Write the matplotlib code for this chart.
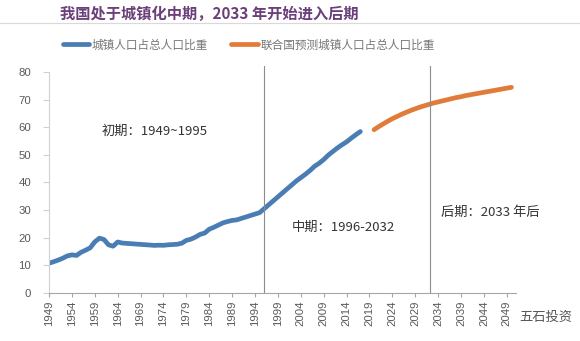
import matplotlib
matplotlib.use("Agg")
import matplotlib.pyplot as plt
from matplotlib.lines import Line2D

plt.rcParams['font.family'] = ['Noto Sans CJK SC', 'DejaVu Sans']

# 城镇人口占总人口比重 (%), 1949-2017
hist_years = list(range(1949, 2018))
hist_vals = [10.64, 11.18, 11.78, 12.46, 13.31, 13.69, 13.48, 14.62, 15.39, 16.25,
             18.41, 19.75, 19.29, 17.33, 16.84, 18.37, 17.98, 17.86, 17.74, 17.62,
             17.50, 17.38, 17.26, 17.13, 17.20, 17.16, 17.34, 17.44, 17.55, 17.92,
             18.96, 19.39, 20.16, 21.13, 21.62, 23.01, 23.71, 24.52, 25.32, 25.81,
             26.21, 26.41, 26.94, 27.46, 27.99, 28.51, 29.04, 30.48, 31.91, 33.35,
             34.78, 36.22, 37.66, 39.09, 40.53, 41.76, 42.99, 44.34, 45.89, 46.99,
             48.34, 49.95, 51.27, 52.57, 53.73, 54.77, 56.10, 57.35, 58.52]

# 联合国预测 (%), 2020-2050
proj_years = list(range(2020, 2051))
proj_vals = [59.2, 60.3, 61.3, 62.3, 63.2, 64.0, 64.8, 65.5, 66.2, 66.8,
             67.4, 67.9, 68.4, 68.9, 69.3, 69.7, 70.1, 70.5, 70.9, 71.2,
             71.6, 71.9, 72.2, 72.5, 72.8, 73.1, 73.4, 73.7, 74.0, 74.3, 74.6]

tick_years = list(range(1949, 2050, 5))
phase_bounds = [1995.9, 2032.3]

blue = "#4a7db3"
orange = "#e07b3a"
axis_gray = "#a6a6a6"
label_gray = "#595959"

fig = plt.figure(figsize=(5.8, 3.41), dpi=100)
ax = fig.add_axes([49 / 580, 0.1422, (516 - 49) / 580, 0.6654])

l1, = ax.plot(hist_years, hist_vals, color=blue, lw=3.4, solid_capstyle="round")
l2, = ax.plot(proj_years, proj_vals, color=orange, lw=3.4, solid_capstyle="round")

for x in phase_bounds:
    ax.axvline(x, color="#8c8c8c", lw=0.8)

ax.set_xlim(1949, 2051)
ax.set_ylim(0, 82.5)
ax.set_yticks(range(0, 81, 10))
ax.set_xticks(tick_years)
ax.set_xticklabels([str(y) for y in tick_years], rotation=90,
                   family="Liberation Sans", fontsize=8.2, color=label_gray)
for t in ax.get_yticklabels():
    t.set_family("Liberation Sans")
    t.set_fontsize(8.2)
    t.set_color(label_gray)

ax.spines["top"].set_visible(False)
ax.spines["right"].set_visible(False)
ax.spines["left"].set_bounds(0, 80)
ax.spines["left"].set_color("#d0d0d0")
ax.spines["bottom"].set_color(axis_gray)
ax.tick_params(axis="y", length=4, color="#d0d0d0", pad=9)
ax.tick_params(axis="x", length=3, color=axis_gray, pad=3)

ax.text(1960.5, 58.5, "初期：1949~1995", fontsize=9.5, color="#333333", va="center")
ax.text(2002, 23.5, "中期：1996-2032", fontsize=9.5, color="#333333", va="center")
ax.text(2034.6, 29, "后期：2033 年后", fontsize=9.5, color="#333333", va="center")

# title and rule
fig.text(60 / 580, 1 - 14 / 341, "我国处于城镇化中期，2033 年开始进入后期",
         fontsize=11, fontweight="bold", color="#6b3f7a", va="center")
fig.add_artist(Line2D([0, 1], [1 - 22.5 / 341] * 2, color="#d9d9d9", lw=0.8))

fig.legend([l1, l2], ["城镇人口占总人口比重", "联合国预测城镇人口占总人口比重"],
           loc="center left", bbox_to_anchor=(52 / 580, 1 - 45 / 341), ncol=2,
           frameon=False, fontsize=8.4, handlelength=2.3, handletextpad=0.2,
           columnspacing=2.0, labelcolor="#777777")

fig.text(519 / 580, 1 - 317 / 341, "五石投资", fontsize=9.5, color="#555555",
         va="center")

fig.savefig("out.png", dpi=100)
